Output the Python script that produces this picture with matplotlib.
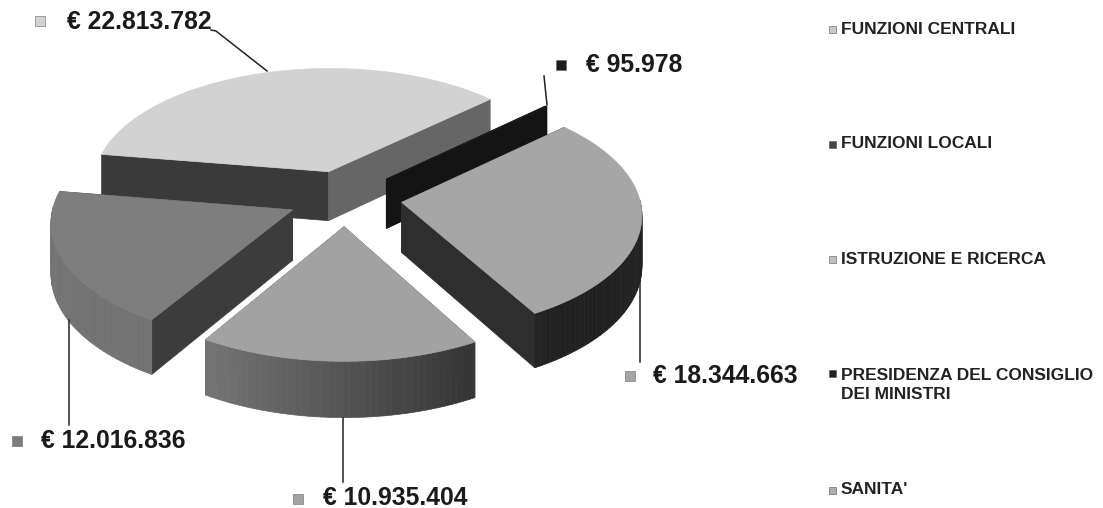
import numpy as np
import matplotlib
matplotlib.use('Agg')
import matplotlib.pyplot as plt
from matplotlib.patches import Polygon, Rectangle

plt.rcParams['font.family'] = ['Liberation Sans', 'DejaVu Sans']

# data
legend_names = ['FUNZIONI CENTRALI', 'FUNZIONI LOCALI', 'ISTRUZIONE E RICERCA',
                'PRESIDENZA DEL CONSIGLIO\nDEI MINISTRI', 'SANITA\'']
values = [22813782, 95978, 18344663, 10935404, 12016836]
value_labels = ['€ 22.813.782', '€ 95.978', '€ 18.344.663', '€ 10.935.404', '€ 12.016.836']

# look of each slice, same order as values
top_colors = ['#d2d2d2', '#1c1c1c', '#a6a6a6', '#a2a2a2', '#7e7e7e']
wall_colors = [('#3a3a3a', '#666666'), ('#141414', '#141414'), ('#2e2e2e', '#2e2e2e'),
               ('#555555', '#555555'), ('#3c3c3c', '#3c3c3c')]
draw_order = [0, 1, 2, 4, 3]

# projection of the pie plane to pixels
cx, cy = 345, 198
scale_x, scale_y = 238, 117
persp = 0.09
explode = 0.24
height = 50
start_angle = 171

label_pos = [(67, 22), (586, 65), (653, 376), (323, 498), (41, 441)]
marker_pos = [(40, 21), (561, 65), (630, 376), (298, 499), (17, 441)]
leaders = [[(211, 30), (216, 31), (267, 71)], [(544, 76), (547, 105)], [(640, 270), (640, 362)],
           [(343, 418), (343, 482)], [(69, 320), (69, 425)]]
legend_y = [29, 144, 259, 385, 490]
legend_marker_colors = ['#c8c8c8', '#444444', '#c0c0c0', '#222222', '#b0b0b0']


def project(u, v, z=0.0):
    s = 1 / (1 + persp * v)
    return cx + scale_x * u * s, cy - scale_y * v * s + height * z * s


def arc_shade(u):
    # outer side goes darker from left to right
    g = np.clip(0.33 - 0.25 * u, 0.13, 0.45)
    return (g, g, g)


fig = plt.figure(figsize=(11.03, 5.08), dpi=100)
ax = fig.add_axes([0, 0, 1, 1])
ax.set_xlim(0, 1103)
ax.set_ylim(508, 0)
ax.axis('off')

fractions = np.array(values) / sum(values)
ends = start_angle - np.cumsum(fractions) * 360
starts = ends + fractions * 360

for i in draw_order:
    a0, a1 = np.radians(starts[i]), np.radians(ends[i])
    mid = (a0 + a1) / 2
    ox, oy = explode * np.cos(mid), explode * np.sin(mid)
    t = np.linspace(a0, a1, max(4, int(abs(a1 - a0) * 40)))
    us = ox + np.cos(t)
    vs = oy + np.sin(t)
    # radial walls
    for (u1, v1), col in zip([(us[0], vs[0]), (us[-1], vs[-1])], wall_colors[i]):
        quad = [project(ox, oy), project(u1, v1), project(u1, v1, 1), project(ox, oy, 1)]
        ax.add_patch(Polygon(quad, fc=col, ec=col, lw=0.5))
    # outer side, only the part facing the viewer
    for k in range(len(t) - 1):
        if np.sin(t[k]) > 0.02 and np.sin(t[k + 1]) > 0.02:
            continue
        quad = [project(us[k], vs[k]), project(us[k + 1], vs[k + 1]),
                project(us[k + 1], vs[k + 1], 1), project(us[k], vs[k], 1)]
        col = arc_shade(us[k])
        ax.add_patch(Polygon(quad, fc=col, ec=col, lw=0.5))
    # top face
    pts = [project(ox, oy)] + [project(a, b) for a, b in zip(us, vs)]
    ax.add_patch(Polygon(pts, fc=top_colors[i], ec=top_colors[i], lw=0.5))

for line in leaders:
    xs, ys = zip(*line)
    ax.plot(xs, ys, color='#222222', lw=1.1)

for i in range(len(values)):
    mx, my = marker_pos[i]
    ax.add_patch(Rectangle((mx - 5, my - 5), 10, 10, fc=top_colors[i], ec='#666666', lw=0.4))
    ax.text(label_pos[i][0], label_pos[i][1], value_labels[i], fontsize=17.8, fontweight='bold',
            color='#1a1a1a', va='center', ha='left')

for name, y, col in zip(legend_names, legend_y, legend_marker_colors):
    first_y = y - 12 if '\n' in name else y
    ax.add_patch(Rectangle((829, first_y - 3.5), 7, 7, fc=col, ec='#555555', lw=0.4))
    ax.text(841, y, name, fontsize=12.5, fontweight='bold', color='#222222', va='center', ha='left',
            linespacing=1.4)

fig.savefig('out.png', dpi=100)
